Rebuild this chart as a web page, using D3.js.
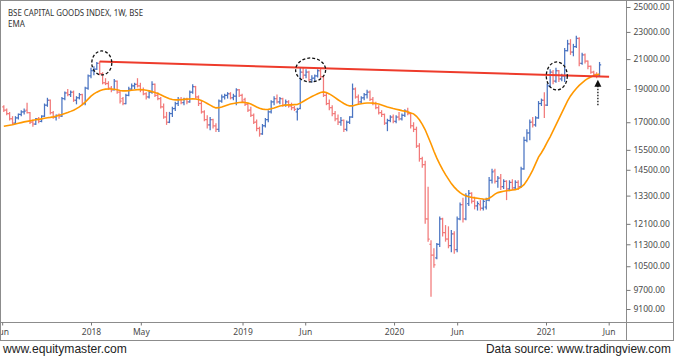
<!DOCTYPE html>
<html><head><meta charset="utf-8">
<script src="https://cdn.jsdelivr.net/npm/d3@7"></script>
<style>
html,body{margin:0;padding:0;background:#fff;}
svg{display:block;}
</style></head><body>
<svg id="c" width="675" height="359"></svg>
<script>
// ---- data (weekly bars, first bar week of 2017-06-05) ----
const firstWeek = "2017-06-05";
const openV = [17900,17700,17500,17200,16950,17250,17450,17600,17700,17550,17000,16900,17200,17050,17350,18000,18300,17550,17300,17400,
17350,18400,18750,18650,18800,18300,18450,18650,18100,19050,19850,20200,20300,20700,20000,19400,19350,19050,18950,19500,
18800,18400,18100,18600,19000,19200,19300,19200,18950,18700,18500,18800,19300,18600,18400,17900,17300,17000,17500,17800,
18100,18350,18150,18350,18200,18800,19150,18500,18100,17600,17150,16850,17150,16800,16600,18250,18500,18600,18700,18450,
18550,18950,18600,18350,18050,17700,17400,17000,16650,16350,16800,17150,17600,18200,18400,18200,18400,18000,18200,17950,
17850,17600,17800,20100,19900,20100,19600,19700,19850,20200,19800,18600,18100,17850,17500,17200,17000,17100,16600,17000,
17300,19000,18500,18200,18450,18650,18800,18350,18100,17850,17550,17450,16950,17100,17300,17050,17300,17200,17400,17650,
17500,16800,16600,15700,15050,14750,12300,11300,10900,10800,11300,12300,11750,11500,11250,11700,11100,12300,12900,12300,
12950,13400,13050,12850,12900,12750,12800,13100,14000,14450,13950,14100,13700,13950,13600,13900,13650,13900,13700,14550,
16000,16400,17000,16850,17250,18100,18300,18000,19200,20100,19500,20200,19650,19850,21600,22100,21500,21900,22500,20700,
21300,20850,20500,20100,19950,19850];
const highV = [18000,17800,17600,17350,17350,17500,17700,17800,18150,17600,17150,17250,17300,17400,18100,18450,18350,17650,17450,17500,
18500,18850,19000,18900,18900,18550,18750,18700,19150,19950,20400,20500,20800,20850,20100,19700,19500,19200,19650,19550,
18900,18500,18700,19150,19350,19400,19700,19400,19100,18800,18900,19500,19350,18800,18500,18100,17600,17600,17900,18200,
18500,18500,18450,18450,18900,19300,19200,18600,18250,17700,17400,17300,17200,16950,18350,18650,18700,18800,18800,18700,
19050,19000,18700,18450,18150,17900,17500,17150,16750,16900,17250,17700,18300,18550,18650,18500,18450,18350,18300,18150,
17950,17850,20400,20450,20300,20200,19900,19950,20300,20350,19900,18800,18350,18000,17650,17450,17300,17150,17100,17350,
19350,19100,18650,18550,18750,18950,18900,18500,18200,18000,17700,17500,17200,17400,17450,17400,17600,17500,17750,17850,
17550,17000,16750,15850,15150,14950,13700,11450,11150,11350,12400,12350,12050,12000,11850,11800,12400,13000,13200,13400,
13550,13450,13250,13050,13100,13150,13200,14150,14550,14550,14200,14300,14050,14000,14000,14050,14000,14000,14650,16200,
16600,17150,17300,17350,18250,18400,18800,19350,20300,20250,20400,20250,20000,21800,22400,22450,22100,22700,22600,21450,
21400,20900,20550,20200,20100,20800];
const lowV = [17600,17400,17100,16850,16900,17150,17350,17450,17500,16900,16750,16850,16950,17000,17300,17900,17450,17200,17100,17200,
17300,18300,18550,18500,18200,18050,18350,18000,18000,18950,19700,19900,20250,19900,19300,19250,18950,18800,18900,18700,
18100,18000,18050,18550,18900,19000,19100,18800,18600,18350,18400,18700,18500,18300,17800,17200,16850,16950,17300,17650,
17950,18050,18000,18050,18150,18700,18400,17950,17500,17050,16650,16550,16650,16450,16450,18150,18350,18400,18350,18300,
18000,18500,18150,17950,17600,17300,16900,16500,16200,16300,16700,17000,17500,18000,18100,18050,17900,17900,17850,17700,
17650,17100,17750,19650,19700,19500,19400,19450,19750,19700,18500,18000,17700,17350,17050,16850,16800,16450,16500,16900,
17250,18400,18050,18100,18300,18400,18250,18000,17750,17450,17300,16850,16500,17000,16950,16950,17100,17100,17300,17400,
16650,16450,15600,14900,14600,12100,11400,9480,10450,10750,11200,11600,11400,11150,11000,10950,11000,12250,12150,12250,
12850,12950,12700,12650,12650,12650,12700,13050,13850,13850,13650,13550,13600,13100,13500,13550,13550,13550,13650,14500,
15900,16000,16700,16750,17200,17950,17250,17950,19100,19300,19400,19450,19500,19450,21550,21300,21200,21800,20500,20600,
20700,20300,20000,19850,19700,19800];
const closeV = [17700,17500,17200,16950,17250,17450,17600,17650,17550,17000,16900,17200,17050,17350,18000,18300,17550,17300,17400,17350,
18400,18750,18650,18800,18300,18450,18650,18100,19050,19850,20200,20300,20700,20000,19400,19350,19050,18950,19500,18800,
18250,18100,18600,19000,19200,19300,19200,18950,18700,18500,18800,19300,18600,18400,17900,17300,17000,17500,17800,18100,
18350,18150,18350,18200,18800,19150,18500,18100,17600,17150,16850,17150,16800,16600,18250,18500,18600,18700,18450,18550,
18950,18600,18250,18050,17700,17400,17000,16650,16350,16800,17150,17600,18200,18400,18200,18400,18000,18200,17950,17850,
17750,17750,20100,19900,20100,19600,19700,19850,20200,19800,18600,18100,17850,17500,17200,17000,17100,16600,17000,17300,
19000,18500,18200,18450,18650,18800,18350,18100,17850,17550,17450,16950,17100,17300,17050,17300,17200,17400,17650,17500,
16800,16600,15700,15050,14750,12300,11500,10900,10550,11300,12300,11750,11500,11250,11700,11100,12300,12900,12300,13300,
13400,13050,12850,12950,12750,13050,13100,14000,14400,13950,14100,13700,13950,13600,13900,13650,13900,13700,14550,16000,
16400,17000,16850,17250,18100,18300,18000,19200,20100,19500,20200,19650,19850,21600,22100,21500,21900,22500,20700,21300,
20850,20500,20100,19950,19850,20600];
const emaV = [16770,16800,16830,16860,16900,16940,16980,17020,17050,17080,17110,17140,17165,17195,17225,17255,17280,17310,17350,17400,
17450,17510,17565,17630,17700,17790,17900,18030,18185,18370,18550,18690,18800,18890,18950,18990,19000,19000,18985,18950,
18910,18880,18880,18895,18920,18940,18960,18965,18950,18920,18880,18835,18785,18720,18640,18550,18465,18390,18345,18320,
18320,18330,18350,18370,18380,18395,18380,18345,18280,18200,18100,18005,17910,17835,17850,17895,17955,18015,18065,18100,
18135,18160,18175,18160,18125,18065,17980,17895,17820,17765,17740,17750,17785,17835,17895,17945,17980,18005,18015,18020,
18030,18040,18125,18225,18330,18430,18530,18615,18700,18785,18815,18780,18690,18580,18455,18330,18210,18100,18015,17955,
17955,18005,18050,18090,18120,18135,18135,18125,18100,18065,18015,17955,17895,17850,17800,17760,17720,17675,17640,17600,
17540,17484,17340,17138,16883,16577,16198,15820,15430,15075,14775,14506,14266,14053,13844,13683,13548,13434,13345,13286,
13247,13220,13198,13181,13163,13146,13137,13181,13269,13367,13434,13466,13493,13516,13534,13552,13570,13606,13685,13798,
13985,14220,14480,14800,15125,15350,15610,15900,16190,16520,16855,17195,17542,17896,18258,18565,18815,19036,19230,19389,
19552,19683,19782,19862,19928,19981];

const yTickValues = [25000,23000,21000,19000,17000,15500,14500,13300,12100,11300,10500,9700,9100];
const xTickDates = ["2017-06-01","2018-01-01","2018-05-01","2019-01-01","2019-06-01","2020-01-01","2020-06-01","2021-01-01","2021-06-01"];
const xTickLabels = ["Jun","2018","May","2019","Jun","2020","Jun","2021","Jun"];

// resistance line & annotations
const trendDates = ["2018-01-22","2021-06-02"];
const trendValues = [20830,19790];
const circleDates = ["2018-01-27","2019-06-14","2021-01-27"];
const circleValues = [20730,20250,19850];
const arrowDate = "2021-05-06";
const arrowValues = [19600,17900];

// ---- drawing ----
const parse = d3.timeParse("%Y-%m-%d");
const plotRight = 626, plotBottom = 322, frameBottom = 340;
const svg = d3.select("#c");

const x = d3.scaleTime().domain([parse("2018-01-01"), parse("2021-01-01")]).range([91, 546]);
const y = d3.scaleLog().domain([25000, 9100]).range([7, 309]);

const start = parse(firstWeek);
const bars = closeV.map((c,i)=>({date:d3.timeDay.offset(start, 7*i), o:openV[i], h:highV[i], l:lowV[i], c:c, e:emaV[i]}));

svg.append("defs").append("clipPath").attr("id","plotclip")
  .append("rect").attr("x",1).attr("y",1).attr("width",plotRight-1).attr("height",plotBottom-1);

const plot = svg.append("g").attr("clip-path","url(#plotclip)");

const upC = "#4a74c2", dnC = "#f27a7a";
const bg = plot.append("g").selectAll("g").data(bars).join("g")
  .attr("stroke", d=> d.c >= d.o ? upC : dnC)
  .attr("stroke-width", 1.25);
bg.append("line").attr("x1",d=>x(d.date)).attr("x2",d=>x(d.date)).attr("y1",d=>y(d.h)).attr("y2",d=>y(d.l));
bg.append("line").attr("x1",d=>x(d.date)-1.6).attr("x2",d=>x(d.date)).attr("y1",d=>y(d.o)).attr("y2",d=>y(d.o));
bg.append("line").attr("x1",d=>x(d.date)).attr("x2",d=>x(d.date)+1.6).attr("y1",d=>y(d.c)).attr("y2",d=>y(d.c));

// EMA
plot.append("path").datum(bars)
  .attr("fill","none").attr("stroke","#ff9800").attr("stroke-width",1.6)
  .attr("d", d3.line().x(d=>x(d.date)).y(d=>y(d.e)));

// resistance line
plot.append("line")
  .attr("x1",x(parse(trendDates[0]))).attr("y1",y(trendValues[0]))
  .attr("x2",x(parse(trendDates[1]))).attr("y2",y(trendValues[1]))
  .attr("stroke","#ee3b2b").attr("stroke-width",2);

// dashed circles
const radii = [[10,12],[15,12],[10.5,14]];
circleDates.forEach((dd,i)=>{
  plot.append("ellipse").attr("cx",x(parse(dd))).attr("cy",y(circleValues[i]))
    .attr("rx",radii[i][0]).attr("ry",radii[i][1])
    .attr("fill","none").attr("stroke","#111").attr("stroke-width",1.3).attr("stroke-dasharray","3,2");
});

// arrow
const ax = x(parse(arrowDate)), ay1 = y(arrowValues[0]), ay2 = y(arrowValues[1]);
plot.append("line").attr("x1",ax).attr("x2",ax).attr("y1",ay1+6).attr("y2",ay2)
  .attr("stroke","#111").attr("stroke-width",1.3).attr("stroke-dasharray","1.5,1.5");
plot.append("path").attr("d",`M${ax},${ay1} L${ax-3.5},${ay1+7} L${ax+3.5},${ay1+7} Z`).attr("fill","#111");

// frame
const frameC = "#8c8c8c";
svg.append("rect").attr("x",0.5).attr("y",0.5).attr("width",673).attr("height",frameBottom).attr("fill","none").attr("stroke",frameC);
svg.append("line").attr("x1",plotRight+0.5).attr("x2",plotRight+0.5).attr("y1",0).attr("y2",frameBottom).attr("stroke",frameC);
svg.append("line").attr("x1",0).attr("x2",674).attr("y1",plotBottom+0.5).attr("y2",plotBottom+0.5).attr("stroke",frameC);

// y axis
const yAxis = svg.append("g").attr("transform",`translate(${plotRight+0.5},0)`)
  .call(d3.axisRight(y).tickValues(yTickValues).tickFormat(d3.format(".2f")).tickSize(4).tickPadding(3));
yAxis.select(".domain").remove();
yAxis.selectAll("line").attr("stroke","#777");
yAxis.selectAll("text").attr("fill","#4a4a4a").style("font","8.5px 'Noto Sans', sans-serif");

// x axis (leftmost "Jun" is partly hidden by the frame, as in the original)
svg.append("clipPath").attr("id","xclip").append("rect").attr("x",1).attr("y",plotBottom).attr("width",plotRight-1).attr("height",20);
const xAxis = svg.append("g").attr("clip-path","url(#xclip)").append("g").attr("transform",`translate(0,${plotBottom+0.5})`)
  .call(d3.axisBottom(x).tickValues(xTickDates.map(parse)).tickFormat((d,i)=>xTickLabels[i]).tickSize(3).tickPadding(3));
xAxis.select(".domain").remove();
xAxis.selectAll("line").attr("stroke","#777");
xAxis.selectAll("text").attr("fill","#4a4a4a").style("font","8.5px 'Noto Sans', sans-serif");

// title
svg.append("text").attr("x",8).attr("y",16).attr("fill","#333")
  .style("font","8px 'Noto Sans', sans-serif").attr("textLength",135).attr("lengthAdjust","spacingAndGlyphs")
  .text("BSE CAPITAL GOODS INDEX, 1W, BSE");
svg.append("text").attr("x",8).attr("y",27).attr("fill","#333")
  .style("font","8px 'Noto Sans', sans-serif").text("EMA");

// footer: condensed look by horizontal scaling to the reference widths
function footer(txt, left, width){
  const g = svg.append("g");
  const t = g.append("text").attr("x",0).attr("y",0).attr("fill","#222")
    .style("font","13px 'Liberation Sans Narrow', 'Liberation Sans', sans-serif").text(txt);
  const w = t.node().getComputedTextLength();
  const s = Math.min(1, width / w);
  g.attr("transform",`translate(${left},353) scale(${s},1)`);
}
footer("www.equitymaster.com", 3, 124);
footer("Data source: www.tradingview.com", 486, 185);
</script>
</body></html>
